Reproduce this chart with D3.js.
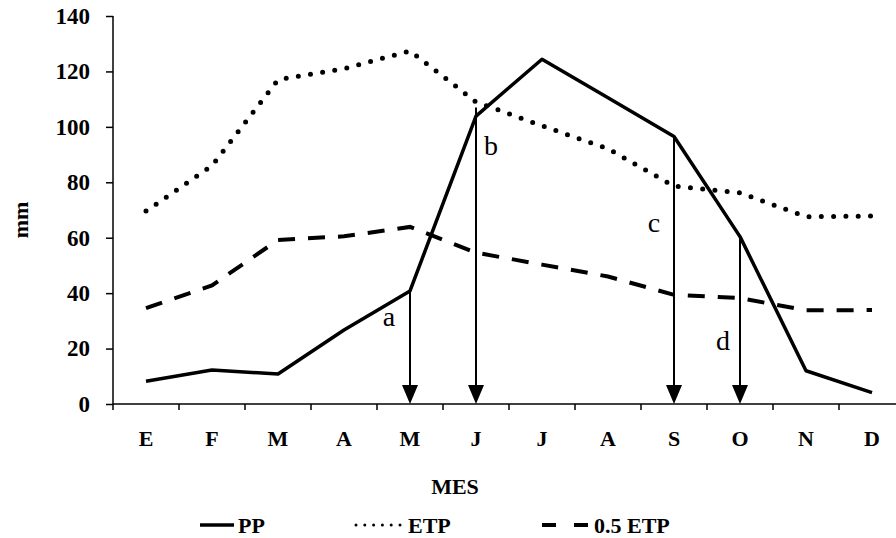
<!DOCTYPE html>
<html>
<head>
<meta charset="utf-8">
<script src="https://cdnjs.cloudflare.com/ajax/libs/d3/7.8.5/d3.min.js"></script>
<style>
  body { margin: 0; background: #fff; }
  svg { display: block; }
  text { font-family: "Liberation Serif", "Times New Roman", serif; fill: #000; }
</style>
</head>
<body>
<div id="graphic"></div>
<script>
// monthly water balance: rainfall vs evapotranspiration
const months = ['E', 'F', 'M', 'A', 'M', 'J', 'J', 'A', 'S', 'O', 'N', 'D'];
const pp = [8.2, 12.3, 10.8, 26.7, 40.8, 103.9, 124.4, 110.5, 96.5, 60.4, 12.0, 4.1];
const etp = [69.6, 86, 117, 121, 127.4, 109, 100.4, 92.1, 78.6, 76.2, 67.6, 67.8];
const halfEtp = [34.6, 42.8, 59.2, 60.5, 63.9, 54.6, 50.3, 46.0, 39.4, 38.2, 33.8, 33.9];
const yTicks = [0, 20, 40, 60, 80, 100, 120, 140];
// arrows drop from a curve value to the axis
const arrows = [
  { label: 'a', month: 4, from: 40.8 },
  { label: 'b', month: 5, from: 107 },
  { label: 'c', month: 8, from: 96.5 },
  { label: 'd', month: 9, from: 60.4 }
];

(function () {
  var width = 896;
  var height = 538;

  var svg = d3.select('#graphic')
    .append('svg')
    .attr('width', width)
    .attr('height', height)

  var x = d3.scaleBand()
    .domain(d3.range(months.length))
    .range([113, 905])

  var y = d3.scaleLinear()
    .domain([0, 140])
    .range([404, 16])

  var cx = i => x(i) + x.bandwidth() / 2

  // y axis
  var yAxis = svg.append('g')
    .attr('transform', 'translate(113,0)')
    .call(d3.axisLeft(y).tickValues(yTicks).tickSize(7).tickPadding(16))
  yAxis.selectAll('path, line').attr('stroke', '#000').attr('stroke-width', 1.5)
  yAxis.select('.domain').attr('d', 'M0,' + y(140) + 'V' + y(0))
  yAxis.selectAll('text')
    .attr('font-family', '"Liberation Serif", serif')
    .attr('font-size', 23)
    .attr('font-weight', 'bold')

  // x axis: line, ticks between months, centred labels
  svg.append('line')
    .attr('x1', 113).attr('x2', 905)
    .attr('y1', y(0)).attr('y2', y(0))
    .attr('stroke', '#000').attr('stroke-width', 1.5)

  svg.append('g').selectAll('line')
    .data(d3.range(months.length + 1))
    .enter().append('line')
    .attr('x1', i => 113 + i * x.bandwidth())
    .attr('x2', i => 113 + i * x.bandwidth())
    .attr('y1', y(0)).attr('y2', y(0) + 6)
    .attr('stroke', '#000').attr('stroke-width', 1.5)

  svg.append('g').selectAll('text')
    .data(months)
    .enter().append('text')
    .attr('x', (d, i) => cx(i))
    .attr('y', 446)
    .attr('text-anchor', 'middle')
    .attr('font-size', 22)
    .attr('font-weight', 'bold')
    .text(d => d)

  svg.append('text')
    .attr('x', 455).attr('y', 494)
    .attr('text-anchor', 'middle')
    .attr('font-size', 22)
    .attr('font-weight', 'bold')
    .text('MES')

  svg.append('text')
    .attr('transform', 'translate(28,220) rotate(-90)')
    .attr('text-anchor', 'middle')
    .attr('font-size', 22)
    .attr('font-weight', 'bold')
    .text('mm')

  var line = d3.line()
    .x((d, i) => cx(i))
    .y(d => y(d))

  svg.append('path')
    .datum(halfEtp)
    .attr('d', line)
    .attr('fill', 'none')
    .attr('stroke', '#000')
    .attr('stroke-width', 4)
    .attr('stroke-dasharray', '17 13')

  svg.append('path')
    .datum(etp)
    .attr('d', line)
    .attr('fill', 'none')
    .attr('stroke', '#000')
    .attr('stroke-width', 5)
    .attr('stroke-linecap', 'round')
    .attr('stroke-dasharray', '0 12.3')

  svg.append('path')
    .datum(pp)
    .attr('d', line)
    .attr('fill', 'none')
    .attr('stroke', '#000')
    .attr('stroke-width', 3.5)
    .attr('stroke-linejoin', 'round')

  // arrows
  var arrowG = svg.append('g').selectAll('g')
    .data(arrows)
    .enter().append('g')

  arrowG.append('line')
    .attr('x1', d => cx(d.month)).attr('x2', d => cx(d.month))
    .attr('y1', d => y(d.from)).attr('y2', y(0) - 10)
    .attr('stroke', '#000').attr('stroke-width', 2)

  arrowG.append('path')
    .attr('d', d => {
      var px = cx(d.month), py = y(0)
      return 'M' + (px - 8) + ',' + (py - 19) + 'L' + (px + 8) + ',' + (py - 19) + 'L' + px + ',' + py + 'Z'
    })
    .attr('fill', '#000')

  // where each letter sits next to its arrow
  var labelPos = {
    a: [-21, 326],
    b: [15, 155],
    c: [-20, 232],
    d: [-17, 350]
  }
  arrowG.append('text')
    .attr('x', d => cx(d.month) + labelPos[d.label][0])
    .attr('y', d => labelPos[d.label][1])
    .attr('text-anchor', 'middle')
    .attr('font-size', 28)
    .text(d => d.label)

  // legend
  var legend = svg.append('g')
  var legY = 525

  legend.append('line')
    .attr('x1', 200).attr('x2', 234).attr('y1', legY).attr('y2', legY)
    .attr('stroke', '#000').attr('stroke-width', 3.5)
  legend.append('text')
    .attr('x', 238).attr('y', 533)
    .attr('font-size', 22).attr('font-weight', 'bold')
    .text('PP')

  legend.append('line')
    .attr('x1', 356).attr('x2', 401).attr('y1', legY).attr('y2', legY)
    .attr('stroke', '#000').attr('stroke-width', 3)
    .attr('stroke-linecap', 'round')
    .attr('stroke-dasharray', '0 8.8')
  legend.append('text')
    .attr('x', 408).attr('y', 533)
    .attr('font-size', 22).attr('font-weight', 'bold')
    .text('ETP')

  legend.append('line')
    .attr('x1', 542).attr('x2', 588).attr('y1', legY).attr('y2', legY)
    .attr('stroke', '#000').attr('stroke-width', 4)
    .attr('stroke-dasharray', '14 18')
  legend.append('text')
    .attr('x', 594).attr('y', 533)
    .attr('font-size', 22).attr('font-weight', 'bold')
    .text('0.5 ETP')
})()
</script>
</body>
</html>
